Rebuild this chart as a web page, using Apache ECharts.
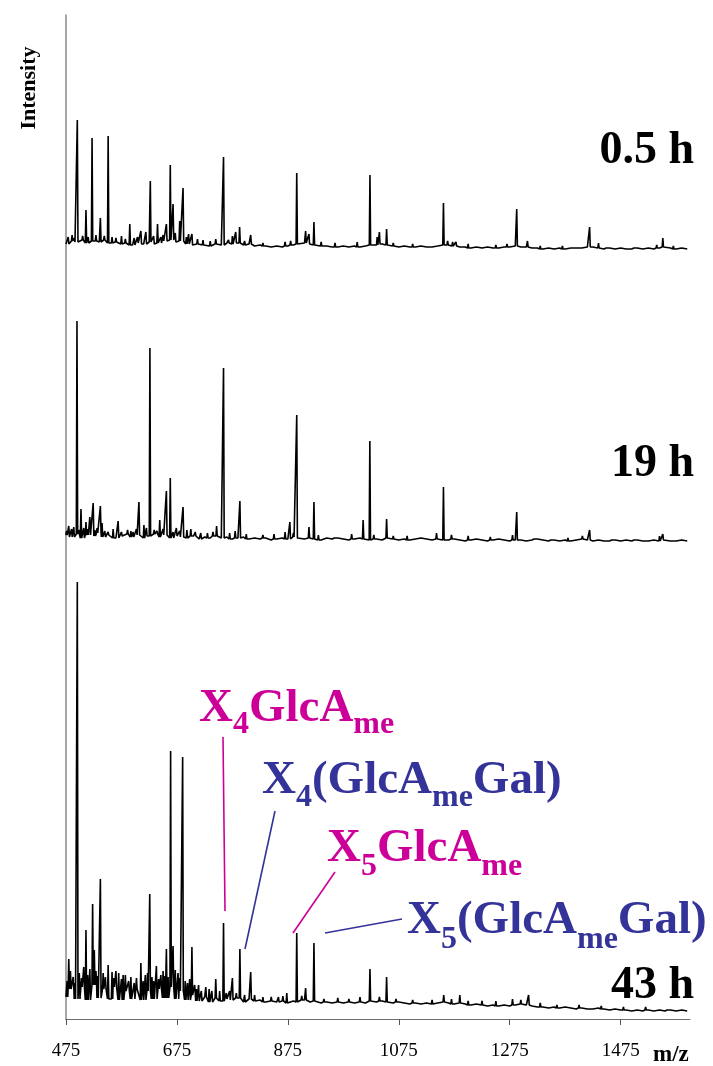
<!DOCTYPE html>
<html>
<head>
<meta charset="utf-8">
<script src="https://cdn.jsdelivr.net/npm/echarts@6/dist/echarts.min.js"></script>
<style>html,body{margin:0;padding:0;background:#fff}#c{width:713px;height:1066px}</style>
</head>
<body>
<div id="c"></div>
<script>
// ---------- DATA ----------
const tickValues = [475, 675, 875, 1075, 1275, 1475];
const timeLabels = ['0.5 h', '19 h', '43 h'];
const baseStart = 475, baseStep = 10;   // baseline trace sampled every 10 m/z

// peaks: [m/z, level above the spectrum's offset]
const peaks05 = [[479,12],[486,14],[490,11],[495.4,129],[505,13],[511,39],[515,12],[522,111],[529,14],[537,31],[544,13],[551,113],[558,12],[565,11],[575,13],[582,10],[590,25],[598,11],[604,12],[610,18],[619,17],[627,68],[633,13],[640,25],[646,12],[650,14],[656,25],[663,84],[668,45],[672,16],[680,28],[686,61],[692,12],[696,15],[702,15],[712,10],[722,9],[735,8],[745,10],[759,92],[768,9],[775,13],[781,17],[788,22],[797,8],[808,14],[830,6],[870,7],[880,8],[891,76],[907,18],[913,15],[922,27],[935,7],[960,6],[1000,7],[1023,74],[1036,12],[1040,17],[1053,20],[1065,6],[1100,5],[1155.5,46],[1163,8],[1172,7],[1178,7],[1200,5],[1250,4],[1270,5],[1287.6,40],[1307,8],[1330,3],[1370,3],[1419,22],[1435,6],[1450,3],[1500,3],[1540,4],[1551,11],[1570,3]];
const peaks19 = [[476,10],[480,15],[485,12],[489,14],[494.8,220],[498,11],[502,32],[507,13],[511,19],[514,12],[518,24],[524,38],[527,11],[531,13],[537,35],[540,18],[545,10],[551,9],[560,12],[569,20],[575,9],[586,11],[592,10],[596,9],[602,12],[606.5,39],[615.5,16],[620,13],[626.3,193],[634,11],[639,10],[644,21],[650,12],[656,50],[663,63],[668,9],[674,13],[680,10],[686,34],[693,11],[700,12],[708,9],[718,8],[730,8],[740,9],[746.5,15],[759,173],[770,8],[780,10],[788.5,40],[800,7],[830,6],[850,7],[870,9],[878.6,19],[885,8],[891,126],[913,14],[922,39],[930,6],[960,5],[990,7],[1010.7,21],[1022.8,100],[1030,6],[1053,22],[1065,5],[1090,5],[1143,8],[1155.5,54],[1170,6],[1200,5],[1240,4],[1280,6],[1287.6,29],[1320,4],[1350,3],[1380,3],[1406,5],[1419,11],[1460,3],[1500,2],[1545,5],[1551,7]];
const peaks43 = [[477,30],[480,52],[483,40],[488,34],[491,28],[495.4,429],[499,38],[503,33],[507,44],[511,81],[514,36],[518,42],[523,107],[526,61],[529,40],[532,35],[537,132],[542,38],[546,34],[551,46],[558,39],[561,33],[565,40],[570,38],[575,32],[578,36],[582,36],[588,30],[592,34],[598,28],[602,33],[610,48],[614,30],[618,36],[622,38],[626,117],[630,34],[633,30],[638,45],[642,32],[646,36],[650,40],[653,35],[656,62],[659,34],[663.6,260],[668,65],[672,41],[677,38],[680,33],[685.3,254],[690,30],[694,28],[698,32],[702,64],[707,26],[710,22],[714,26],[719,20],[727,24],[733,22],[738,20],[745,32],[752,20],[759,88],[764,18],[770,20],[775,33],[782,18],[788.5,62],[797,16],[808,39],[815,16],[830,14],[845,14],[858,14],[866,15],[873,18],[891,78],[900,15],[907,23],[922,68],[940,12],[965,13],[985,12],[1005,14],[1023,42],[1040,14],[1053,34],[1070,12],[1100,11],[1135,11],[1156,16],[1170,12],[1185,16],[1200,10],[1225,10],[1250,10],[1280,12],[1295,11],[1309,16],[1330,8],[1360,6],[1400,6],[1440,5],[1480,4],[1520,4],[1560,3]];

// baseline traces (every 10 m/z from 475 to 1595)
const base05 = [5,8,7,9,6,8,7,9,6,7,5,6,4,6,5,7,5,6,8,9,7,8,5,4,5,
  4,3,5,4,6,5,6,4,5,3, 4,3,2,3,2,3,4,5,6,5, 4,3,3,2,2,3,2,3,2,3, 4,4,5,4,3,2,3,2,2,3,
  2,2,3,4,4,3,2,2,1,2, 1,2,1,1,2,2,3,2,2,1, 1,0,1,0,1,0,1,1,1,2, 2,1,0,1,0,1,0,0,1,0, 1,0,1,2,1,0,1,0];
const base19 = [6,4,7,3,6,5,8,4,6,3,5,7,4,6,3,5,7,4,6,3,5,4,3,5,2,
  4,3,5,3,4,2,3,4,2,3, 2,3,1,2,3,2,4,3,2,3, 2,1,3,2,3,2,1,2,3,2, 1,2,1,3,2,1,2,1,2,3,
  2,1,2,1,1,2,1,0,1,2, 1,0,1,2,1,0,1,1,0,1, 2,1,0,1,0,1,0,1,2,1, 0,1,0,0,1,0,1,0,1,0, 0,1,0,1,0,0,1,0];
const base43 = [14,22,12,24,11,26,13,22,12,24,11,20,12,22,11,20,12,22,13,24,12,20,11,16,10,
  14,9,13,10,12,11,13,9,12,10, 11,9,10,9,10,8,10,9,11,9, 10,8,9,8,9,8,9,8,9,8, 10,9,10,9,8,9,8,7,8,7,
  8,7,8,9,8,7,8,7,6,7, 6,5,6,5,6,5,6,7,6,5, 4,4,3,4,3,4,3,2,3,2, 2,3,2,1,2,1,1,0,1,0, 1,0,1,0,1,0,1,0];

// vertical offsets of the three stacked spectra (layout)
const offsets = [770, 478, 8];

function buildTrace(base, peaks, offset) {
  const pts = [];
  base.forEach((v, i) => {
    const mz = baseStart + i * baseStep;
    if (!peaks.some(p => Math.abs(p[0] - mz) < 2)) pts.push([mz, v + offset]);
  });
  peaks.forEach(([mz, top]) => {
    const k = Math.min(base.length - 1, Math.max(0, Math.round((mz - baseStart) / baseStep)));
    const b = base[k] + offset;
    pts.push([mz - 1.2, b], [mz, top + offset], [mz + 1.2, b]);
  });
  pts.sort((a, b) => a[0] - b[0]);
  return pts;
}

const spectra = [[base05, peaks05], [base19, peaks19], [base43, peaks43]];

// ---------- TEXT HELPERS ----------
const SERIF = '"Liberation Serif", "Times New Roman", serif';
const mctx = document.createElement('canvas').getContext('2d');
function textW(t, size) { mctx.font = 'bold ' + size + 'px ' + SERIF; return mctx.measureText(t).width; }
function txt(x, y, text, size, color, align, rot) {
  return {
    type: 'text', x: x, y: y, rotation: rot || 0, silent: true,
    style: { text: text, font: 'bold ' + size + 'px ' + SERIF, fill: color,
      align: align || 'left', textAlign: align || 'left',
      verticalAlign: 'middle', textVerticalAlign: 'middle' }
  };
}
const MAIN = 47, SUB = 32;
function formula(parts, color, x, baseline, subDrop) {
  const els = [];
  let cx = x;
  parts.forEach(([t, isSub]) => {
    const size = isSub ? SUB : MAIN;
    const bl = isSub ? baseline + subDrop : baseline;
    els.push(txt(cx, bl - 0.3375 * size, t, size, color, 'left'));
    cx += textW(t, size);
  });
  return els;
}
const MAG = '#CC0099', BLU = '#333399';

const graphics = [];
// time labels
const timeBaselines = [167, 480, 1002];
timeLabels.forEach((t, i) => graphics.push(txt(694, timeBaselines[i] - 0.3375 * 46, t, 46, '#000', 'right')));
// axis names
graphics.push(txt(29, 88, 'Intensity', 22, '#000', 'center', Math.PI / 2));
graphics.push(txt(653, 1063 - 0.3375 * 23, 'm/z', 23, '#000', 'left'));
// annotations
graphics.push(...formula([['X',0],['4',1],['GlcA',0],['me',1]], MAG, 199, 725, 11));
graphics.push(...formula([['X',0],['4',1],['(GlcA',0],['me',1],['Gal)',0]], BLU, 262, 797, 11.5));
graphics.push(...formula([['X',0],['5',1],['GlcA',0],['me',1]], MAG, 327, 865, 13));
graphics.push(...formula([['X',0],['5',1],['(GlcA',0],['me',1],['Gal)',0]], BLU, 407, 937, 14));
function seg(x1, y1, x2, y2, c) {
  return { type: 'line', silent: true, shape: { x1, y1, x2, y2 }, style: { stroke: c, lineWidth: 1.6 } };
}
graphics.push(seg(223, 737, 225, 911, MAG));
graphics.push(seg(275, 811, 245, 949, BLU));
graphics.push(seg(335, 872, 293, 933, MAG));
graphics.push(seg(325, 933, 402, 919, BLU));

// ---------- CHART ----------
const chart = echarts.init(document.getElementById('c'), null, { renderer: 'canvas' });
chart.setOption({
  animation: false,
  backgroundColor: '#fff',
  grid: { left: 66, right: 23, top: 15, bottom: 47, containLabel: false },
  xAxis: {
    type: 'value', min: 475, max: 1600,
    splitLine: { show: false },
    axisLine: { show: true, lineStyle: { color: '#6e6e6e', width: 1.2 } },
    axisTick: { show: true, length: 6, lineStyle: { color: '#555', width: 1 }, customValues: tickValues },
    axisLabel: { customValues: tickValues, formatter: v => String(v), fontFamily: SERIF, fontSize: 19, color: '#000', margin: 23, lineHeight: 19 }
  },
  yAxis: {
    type: 'value', min: 0, max: 1004,
    splitLine: { show: false },
    axisLine: { show: true, lineStyle: { color: '#8a8a8a', width: 1.5 } },
    axisTick: { show: false }, axisLabel: { show: false }
  },
  series: spectra.map(([b, p], i) => ({
    type: 'line', data: buildTrace(b, p, offsets[i]), symbol: 'none', silent: true,
    lineStyle: { color: '#000', width: 1.6 }, sampling: null, clip: true
  })),
  graphic: graphics
});
</script>
</body>
</html>
